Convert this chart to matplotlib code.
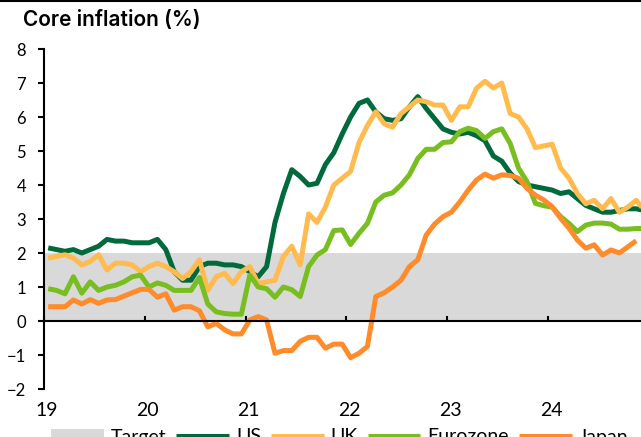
import numpy as np
import matplotlib
matplotlib.use('Agg')
import matplotlib.pyplot as plt
import matplotlib.transforms as mtransforms
from matplotlib.lines import Line2D

# monthly core inflation, Jan 2019 onwards (%)
us = [2.15, 2.1, 2.05, 2.1, 2.0, 2.1, 2.2, 2.4, 2.35, 2.35, 2.3, 2.3,
      2.3, 2.4, 2.1, 1.45, 1.2, 1.2, 1.6, 1.7, 1.7, 1.65, 1.65, 1.6,
      1.45, 1.3, 1.6, 2.9, 3.75, 4.45, 4.25, 4.0, 4.05, 4.6, 4.95, 5.5,
      6.0, 6.4, 6.5, 6.15, 5.95, 5.9, 5.95, 6.3, 6.6, 6.25, 5.95, 5.65,
      5.55, 5.5, 5.55, 5.45, 5.3, 4.85, 4.7, 4.35, 4.1, 4.0, 3.95, 3.9,
      3.85, 3.75, 3.8, 3.6, 3.4, 3.3, 3.2, 3.2, 3.25, 3.3, 3.3, 3.25]
uk = [1.85, 1.9, 1.95, 1.85, 1.65, 1.75, 1.95, 1.5, 1.7, 1.7, 1.65, 1.45,
      1.6, 1.7, 1.6, 1.45, 1.25, 1.45, 1.8, 0.9, 1.3, 1.4, 1.1, 1.45,
      1.6, 1.1, 1.15, 1.2, 1.9, 2.2, 1.65, 3.15, 2.9, 3.35, 4.0, 4.2,
      4.4, 5.25, 5.75, 6.15, 5.8, 5.7, 6.1, 6.3, 6.5, 6.45, 6.35, 6.35,
      5.9, 6.3, 6.3, 6.85, 7.05, 6.85, 7.0, 6.1, 6.0, 5.65, 5.1, 5.15,
      5.2, 4.5, 4.2, 3.75, 3.45, 3.55, 3.3, 3.6, 3.2, 3.35, 3.55, 3.25]
ez = [0.95, 0.9, 0.8, 1.3, 0.82, 1.15, 0.9, 1.0, 1.05, 1.15, 1.3, 1.35,
      1.0, 1.12, 1.05, 0.9, 0.9, 0.9, 1.28, 0.5, 0.27, 0.22, 0.2, 0.2,
      1.35, 1.0, 0.95, 0.7, 1.0, 0.92, 0.72, 1.6, 1.94, 2.1, 2.66, 2.68,
      2.25, 2.58, 2.87, 3.5, 3.7, 3.77, 4.0, 4.3, 4.78, 5.05, 5.05, 5.25,
      5.27, 5.57, 5.67, 5.6, 5.37, 5.57, 5.65, 5.22, 4.49, 4.1, 3.46, 3.39,
      3.35, 3.07, 2.87, 2.63, 2.82, 2.88, 2.88, 2.85, 2.7, 2.7, 2.72, 2.72]
japan = [0.42, 0.42, 0.42, 0.62, 0.5, 0.63, 0.52, 0.62, 0.63, 0.73, 0.83, 0.93,
         0.93, 0.7, 0.8, 0.32, 0.42, 0.42, 0.3, -0.17, -0.07, -0.26, -0.38, -0.38,
         0.03, 0.13, 0.03, -0.95, -0.87, -0.87, -0.6, -0.48, -0.48, -0.8, -0.68, -0.68,
         -1.08, -0.95, -0.75, 0.72, 0.83, 1.0, 1.2, 1.6, 1.8, 2.53, 2.85, 3.07,
         3.2, 3.5, 3.85, 4.15, 4.32, 4.2, 4.3, 4.28, 4.2, 3.9, 3.7, 3.56,
         3.36, 3.02, 2.73, 2.38, 2.14, 2.24, 1.94, 2.09, 2.0, 2.18, 2.36]
target = (0, 2)
years = [2019, 2020, 2021, 2022, 2023, 2024]
year_labels = ['19', '20', '21', '22', '23', '24']

series = [('US', us, '#006a3c'), ('UK', uk, '#ffbb4f'),
          ('Eurozone', ez, '#78be21'), ('Japan', japan, '#ff8b2a')]

plt.rcParams['font.family'] = ['Lato', 'DejaVu Sans']

fig = plt.figure(figsize=(6.41, 4.37), dpi=100)
ax = fig.add_axes([44/641, 48/437, 597/641, 340/437])

band = ax.axhspan(target[0], target[1], color='#d9d9d9', lw=0, zorder=0)
handles = [band]
for name, vals, col in series:
    x = 2019 + (np.arange(len(vals)) + 0.5) / 12
    ln, = ax.plot(x, vals, color=col, lw=3.6, label=name,
                  solid_joinstyle='round', solid_capstyle='butt', zorder=2)
    handles.append(ln)

ax.set_xlim(2019, 2019 + 597/100.8)
ax.set_ylim(-2, 8)
ax.set_yticks(range(-2, 9))
ax.set_xticks(years)
ax.set_xticklabels(year_labels)

for s in ['top', 'right']:
    ax.spines[s].set_visible(False)
ax.spines['left'].set_linewidth(1.5)
ax.spines['bottom'].set_linewidth(1.5)
ax.spines['bottom'].set_position(('data', 0))
ax.spines['bottom'].set_zorder(3)
ax.tick_params(axis='y', direction='out', length=4.3, width=1.5, pad=8.5, labelsize=12)
ax.tick_params(axis='x', direction='in', length=3.6, width=1.5, pad=58, labelsize=14)

# year labels sit a few pixels right of their ticks in the original
shift = mtransforms.ScaledTranslation(3/100, 0, fig.dpi_scale_trans)
for lab in ax.get_xticklabels():
    lab.set_transform(lab.get_transform() + shift)

fig.text(23/641, 1 - 20/437, 'Core inflation (%)', fontsize=15, fontweight='semibold',
         family=['Inter', 'DejaVu Sans'], va='center', ha='left')
fig.add_artist(Line2D([0, 1], [1 - 1/437, 1 - 1/437], color='black', lw=1.5))

fig.legend(handles, ['Target', 'US', 'UK', 'Eurozone', 'Japan'], loc='center',
           bbox_to_anchor=(0.53, 0.0), ncol=5, frameon=False, fontsize=14,
           handlelength=2.7, handletextpad=0.36, columnspacing=0.52, borderpad=0)

fig.savefig('out.png', dpi=100)
